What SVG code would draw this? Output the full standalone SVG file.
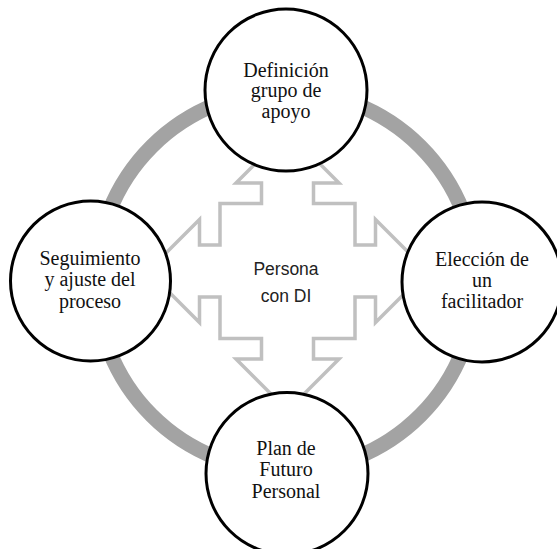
<svg xmlns="http://www.w3.org/2000/svg" width="557" height="549" viewBox="0 0 557 549">
<style>
.node{fill:#fff;stroke:#000;stroke-width:3}
.lbl{font-family:"Liberation Serif","Times New Roman",serif;font-size:20px;fill:#111;text-anchor:middle}
.center{font-family:"Liberation Sans",Arial,sans-serif;font-size:17.5px;fill:#222;text-anchor:middle}
</style>
<rect width="557" height="549" fill="#fff"/>
<g id="connectors">
<circle cx="286" cy="281" r="190" fill="none" stroke="#a3a3a3" stroke-width="15"/>
<path d="M287.5,131.5 L339,183 L313.5,183 L313.5,203.5 L355,203.5 L355,245 L375.5,245 L375.5,219.5 L427,271 L375.5,322.5 L375.5,297 L355,297 L355,338.5 L313.5,338.5 L313.5,359 L339,359 L287.5,410.5 L236,359 L261.5,359 L261.5,338.5 L220,338.5 L220,297 L199.5,297 L199.5,322.5 L148,271 L199.5,219.5 L199.5,245 L220,245 L220,203.5 L261.5,203.5 L261.5,183 L236,183 Z" fill="#fff" stroke="#c0c0c0" stroke-width="3.5" stroke-linejoin="miter"/>
</g>
<g id="center">
<text class="center" x="286" y="275">Persona</text>
<text class="center" x="286" y="302">con DI</text>
</g>
<g id="node-top">
<circle class="node" cx="286" cy="90" r="81"/>
<text class="lbl" x="286" y="77">Definición</text>
<text class="lbl" x="286" y="97">grupo de</text>
<text class="lbl" x="286" y="118">apoyo</text>
</g>
<g id="node-right">
<circle class="node" cx="482" cy="282" r="80"/>
<text class="lbl" x="482" y="266">Elección de</text>
<text class="lbl" x="482" y="287">un</text>
<text class="lbl" x="482" y="308">facilitador</text>
</g>
<g id="node-bottom">
<circle class="node" cx="287" cy="473.5" r="81"/>
<text class="lbl" x="286" y="455">Plan de</text>
<text class="lbl" x="286" y="476">Futuro</text>
<text class="lbl" x="286" y="498">Personal</text>
</g>
<g id="node-left">
<circle class="node" cx="90.5" cy="281" r="80"/>
<text class="lbl" x="90" y="265">Seguimiento</text>
<text class="lbl" x="90" y="286">y ajuste del</text>
<text class="lbl" x="90" y="308">proceso</text>
</g>
</svg>
